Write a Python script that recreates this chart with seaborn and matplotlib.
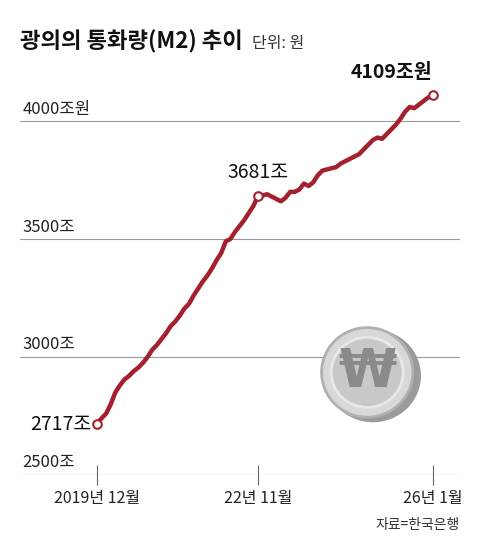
import matplotlib
matplotlib.use("Agg")
import matplotlib.pyplot as plt
from matplotlib.patches import Ellipse
import seaborn as sns
import numpy as np

sns.set_style("white")
plt.rcParams['font.family'] = ['Noto Sans CJK KR', 'DejaVu Sans']

# M2 monthly, Dec 2019 .. Jan 2026 (조원)
m2 = [2717, 2740, 2760, 2800, 2850, 2880, 2905, 2920, 2940, 2955, 2975, 3000,
      3030, 3050, 3075, 3100, 3130, 3150, 3175, 3205, 3225, 3260, 3290, 3320,
      3345, 3375, 3410, 3440, 3490, 3500, 3530, 3555, 3580, 3610, 3640, 3681,
      3685, 3690, 3680, 3670, 3660, 3675, 3700, 3700, 3710, 3735,
      3725, 3740, 3770, 3790, 3795, 3800, 3805, 3820, 3830, 3840,
      3850, 3860, 3880, 3900, 3920, 3930, 3925, 3945, 3965, 3985,
      4010, 4040, 4060, 4055, 4070, 4085, 4100, 4109]
months = list(range(len(m2)))
tick_pos = [0, 35, 73]
tick_labels = ['2019년 12월', '22년 11월', '26년 1월']
y_grid = [2500, 3000, 3500, 4000]
y_labels = ['2500조', '3000조', '3500조', '4000조원']
marks = [(0, '2717조'), (35, '3681조'), (73, '4109조원')]

red = '#a3202e'
fig = plt.figure(figsize=(4.8, 5.6), dpi=100)
ax = fig.add_axes([0.042, 0.152, 0.916, 0.705])
for g in y_grid:
    ax.axhline(g, color='#999999', lw=0.8, zorder=0)
sns.lineplot(x=months, y=m2, ax=ax, color=red, lw=3.2, zorder=3)
mx = [m for m, _ in marks]
ax.scatter(mx, [m2[m] for m in mx], s=38, facecolor='white', edgecolor=red, lw=1.5, zorder=4)

ax.set_xlim(-16.7, 78.9)
ax.set_ylim(2500, 4174)
for s in ax.spines.values():
    s.set_visible(False)
ax.set_yticks([])
ax.set_xticks(tick_pos)
ax.set_xticklabels(tick_labels, fontsize=11.5, color='#222222')
ax.tick_params(axis='x', bottom=True, length=14, width=0.8, color='#666666',
               direction='inout', pad=4)

for g, lab in zip(y_grid, y_labels):
    ax.text(-16.2, g + 15, lab, fontsize=12, color='#222222', va='bottom', ha='left')

ax.text(-1.2, m2[0] - 5, '2717조', fontsize=14, ha='right', va='center', color='#111111')
ax.text(35, m2[35] + 55, '3681조', fontsize=14, ha='center', va='bottom', color='#111111')
ax.text(73, m2[73] + 55, '4109조원', fontsize=14, ha='right', va='bottom', color='#111111', fontweight='bold')

# coin
cx, cy = 0.765, 0.335
fig.patches.append(Ellipse((cx + 0.012, cy - 0.006), 0.2, 0.166, transform=fig.transFigure,
                           facecolor='#9a9a9a', edgecolor='none', zorder=5))
fig.patches.append(Ellipse((cx, cy), 0.19, 0.16, transform=fig.transFigure,
                           facecolor='#d8d8d8', edgecolor='#b0b0b0', lw=2, zorder=6))
fig.patches.append(Ellipse((cx, cy), 0.15, 0.125, transform=fig.transFigure,
                           facecolor='#c8c8c8', edgecolor='#e8e8e8', lw=2, zorder=7))
fig.text(cx, cy, '₩', fontsize=38, ha='center', va='center', color='#8a8a8a',
         fontweight='bold', family=['DejaVu Sans'], zorder=8)

fig.text(0.042, 0.925, '광의의 통화량(M2) 추이', fontsize=16, fontweight='bold', color='#111111', va='center')
fig.text(0.525, 0.922, '단위: 원', fontsize=11.5, color='#333333', va='center')
fig.text(0.958, 0.062, '자료=한국은행', fontsize=10, color='#333333', ha='right', va='center')

fig.savefig('out.png', dpi=100)
